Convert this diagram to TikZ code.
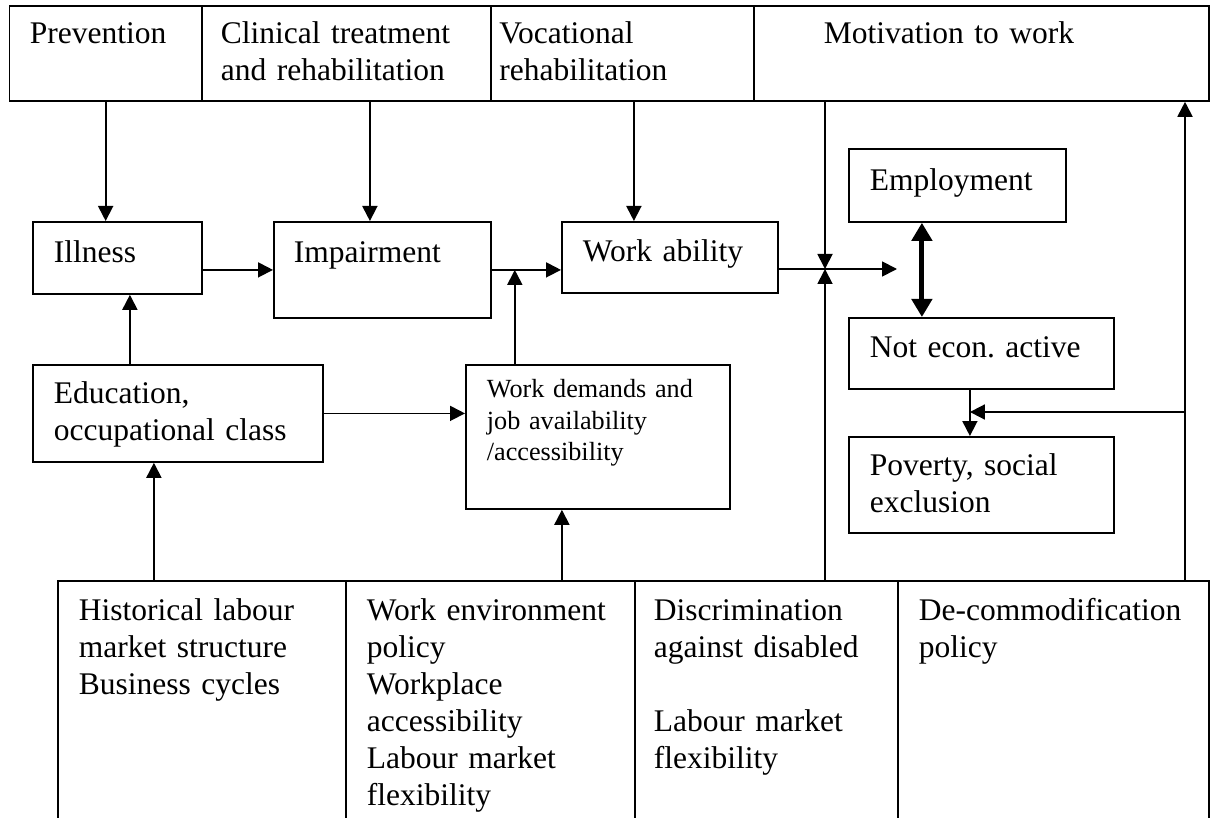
\documentclass[tikz,border=0pt]{standalone}
\usepackage{fontspec}
\setmainfont{Liberation Serif}
\usepackage{tikz}
\usetikzlibrary{calc, arrows.meta}
\frenchspacing
\newcommand{\boxfont}{\fontsize{31.5}{37}\selectfont}
\newcommand{\boxsmallfont}{\fontsize{26.2}{31.5}\selectfont}
\tikzstyle{cellbox} = [draw, line width=1.8pt, anchor=north west, inner ysep=0pt, inner xsep=21pt, align=left, text height=40pt, font=\boxfont]
\tikzstyle{arrow}   = [line width=1.8pt, -{Triangle[length=15pt,width=15pt]}]
\tikzstyle{twoway}  = [line width=5pt, {Triangle[length=18pt,width=20pt]}-{Triangle[length=18pt,width=20pt]}]

\begin{document}
\begin{tikzpicture}[x=1pt, y=-1pt]
  \useasboundingbox (0,0) rectangle (1210,818);
  \clip (0,0) rectangle (1210,818);
  % policy row at the top
  \node[cellbox, inner xsep=20.5pt, text width=151.5pt, text height=38pt, text depth=57pt] (prev) at (8.5,5) {Prevention};
  \node[cellbox, inner xsep=19pt, text width=251pt, text height=38pt, text depth=57pt] (clin) at (201,5) {Clinical treatment\\and rehabilitation};
  \node[cellbox, inner xsep=8.5pt, text width=246pt, text height=38pt, text depth=57pt] (voc) at (490,5) {Vocational\\rehabilitation};
  \node[cellbox, inner xsep=70pt, text width=315pt, text height=38pt, text depth=57pt] (moti) at (753,5) {Motivation to work};
  % chain in the middle
  \node[cellbox, text width=127pt, text height=41pt, text depth=31pt] (ill) at (32,221) {Illness};
  \node[cellbox, inner xsep=20pt, text width=177pt, text height=41pt, text depth=55pt] (imp) at (273,221) {Impairment};
  \node[cellbox, text width=174pt, text depth=31pt] (wab) at (561,221) {Work ability};
  \node[cellbox, text width=175pt, text height=42pt, text depth=31pt] (emp) at (848,148) {Employment};
  \node[cellbox, text width=223pt, text depth=31pt] (nea) at (848,317) {Not econ. active};
  \node[cellbox, text width=223pt, text height=39pt, text depth=57pt] (pov) at (848,436) {Poverty, social\\exclusion};
  \node[cellbox, text width=248pt, text height=39pt, text depth=58pt] (edu) at (32,364) {Education,\\occupational class};
  \node[cellbox, font=\boxsmallfont, text width=222pt, text height=33pt, text depth=111pt] (wdm) at (465,364) {Work demands and\\job availability\\/accessibility};
  % context row at the bottom
  \node[cellbox, text width=246pt, text depth=210pt] (hist) at (57,580) {Historical labour\\market structure\\Business cycles};
  \node[cellbox, text width=247pt, text depth=210pt] (wenv) at (345,580) {Work environment\\policy\\Workplace\\accessibility\\Labour market\\flexibility};
  \node[cellbox, inner xsep=19pt, text width=225pt, text depth=210pt] (disc) at (634,580) {Discrimination\\against disabled\\[37pt]Labour market\\flexibility};
  \node[cellbox, text width=269pt, text depth=210pt] (decom) at (897,580) {De-commodification\\policy};

  \coordinate (j1) at ($(imp.east)+(23,0)$);
  \coordinate (j2) at (825,269);
  \coordinate (out) at (897,269);
  \coordinate (r) at (1185,412);

  \draw[arrow] (prev.south) -- (prev.south |- ill.north);
  \draw[arrow] ([xshift=23.5pt]clin.south) -- ([xshift=23.5pt]clin.south |- imp.north);
  \draw[arrow] ([xshift=11.5pt]voc.south) -- ([xshift=11.5pt]voc.south |- wab.north);
  \draw[arrow] (ill.east |- imp.west) -- (imp.west);
  \draw[arrow] (imp.east) -- (imp.east -| wab.west);
  \draw[arrow] (j1 |- wdm.north) -- (j1);
  \draw[arrow] (wab.east |- j2) -- (out);
  \draw[arrow] (j2 |- moti.south) -- (j2);
  \draw[arrow] (j2 |- disc.north) -- (j2);
  \draw[twoway] ([xshift=-35.5pt]emp.south) -- ([xshift=-35.5pt]emp.south |- nea.north);
  \draw[arrow] ([xshift=-11.5pt]nea.south) -- ([xshift=-11.5pt]nea.south |- pov.north);
  \draw[arrow] (r |- decom.north) -- (r |- moti.south);
  \draw[arrow] (r) -- ([xshift=-11.5pt]nea.south |- r);
  \draw[arrow] ([xshift=12.5pt]ill.south |- edu.north) -- ([xshift=12.5pt]ill.south);
  \draw[arrow] ([xshift=-24pt]edu.south |- hist.north) -- ([xshift=-24pt]edu.south);
  \draw[arrow] (edu.east) -- (edu.east -| wdm.west);
  \draw[arrow] ([xshift=-36pt]wdm.south |- wenv.north) -- ([xshift=-36pt]wdm.south);
\end{tikzpicture}
\end{document}
